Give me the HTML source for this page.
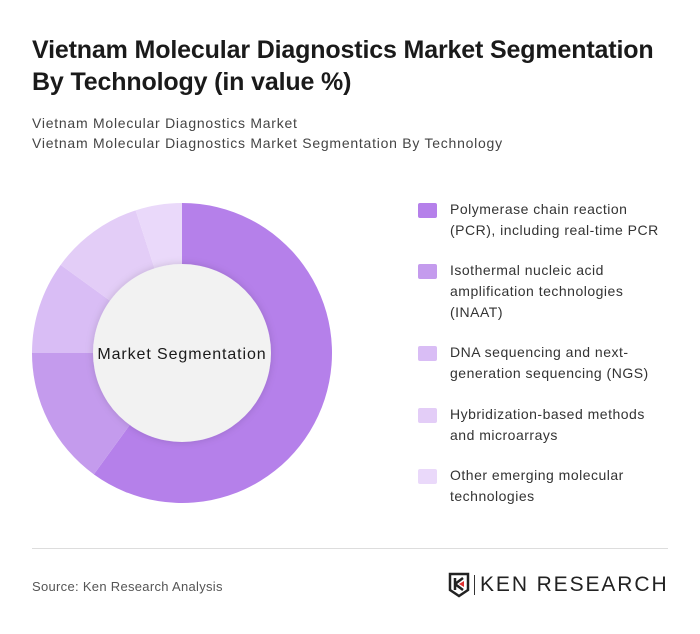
<!DOCTYPE html>
<html><head><meta charset="utf-8"><style>
body{margin:0;background:#fff;}
#card{position:relative;width:700px;height:634px;background:#fff;font-family:"Liberation Sans",sans-serif;overflow:hidden;}
h1{position:absolute;left:32px;top:34px;margin:0;font-size:25px;line-height:32px;font-weight:bold;color:#1a1a1a;width:650px;letter-spacing:-0.15px;}
.sub{position:absolute;left:32px;font-size:14px;color:#444;letter-spacing:0.75px;}
.leg{position:absolute;left:418px;font-size:14px;line-height:21px;color:#333;width:270px;letter-spacing:0.5px;}
.sw{position:absolute;left:0;top:4px;width:19px;height:15px;border-radius:2px;}
.lt{position:absolute;left:32px;white-space:nowrap;}
</style></head><body>
<div id="card">
<h1>Vietnam Molecular Diagnostics Market Segmentation By Technology (in value %)</h1>
<div class="sub" style="top:115px">Vietnam Molecular Diagnostics Market</div>
<div class="sub" style="top:135px">Vietnam Molecular Diagnostics Market Segmentation By Technology</div>
<svg id="donut" width="700" height="634" style="position:absolute;left:0;top:0">
<defs><filter id="sh" x="-20%" y="-20%" width="140%" height="140%"><feDropShadow dx="0" dy="0" stdDeviation="4" flood-color="#000" flood-opacity="0.15"/></filter></defs>
<g id="slices"></g>
<circle cx="182" cy="353" r="89" fill="#f2f2f2" filter="url(#sh)"/>
<text x="182" y="359" text-anchor="middle" font-size="16" letter-spacing="0.9" fill="#1a1a1a" font-family="Liberation Sans, sans-serif">Market Segmentation</text>
</svg>
<div id="legend"></div>
<div style="position:absolute;left:32px;top:548px;width:636px;height:1px;background:#ddd"></div>
<div style="position:absolute;left:32px;top:579px;font-size:13px;color:#555;letter-spacing:0.3px">Source: Ken Research Analysis</div>
<div style="position:absolute;left:448px;top:572px;width:220px;height:26px">
<svg width="22" height="26" style="position:absolute;left:0;top:0"><path d="M2 2H20V18L11 24L2 18Z" fill="none" stroke="#222" stroke-width="2.5"/><path d="M7 6V18M7 12L15 6M7 12L15 18" stroke="#222" stroke-width="2.5" fill="none"/><path d="M11 12L16 9V15Z" fill="#e03030"/></svg>
<div style="position:absolute;left:26px;top:3px;width:1px;height:20px;background:#333"></div>
<div style="position:absolute;left:32px;top:1px;font-size:21px;letter-spacing:1.9px;color:#222;font-family:'Liberation Sans',sans-serif;white-space:nowrap">KEN RESEARCH</div>
</div>
</div>
<script>
const categories=["Polymerase chain reaction (PCR), including real-time PCR","Isothermal nucleic acid amplification technologies (INAAT)","DNA sequencing and next-generation sequencing (NGS)","Hybridization-based methods and microarrays","Other emerging molecular technologies"];
const values=[60,15,10,10,5];
const colors=["#b580ea","#c49bed","#d9bdf5","#e3cdf7","#ead9fa"];
const legendLines=[["Polymerase chain reaction","(PCR), including real-time PCR"],["Isothermal nucleic acid","amplification technologies","(INAAT)"],["DNA sequencing and next-","generation sequencing (NGS)"],["Hybridization-based methods","and microarrays"],["Other emerging molecular","technologies"]];
const legendTops=[199,260,342,404,465];
const cx=182,cy=353,R=150;
const total=values.reduce((a,b)=>a+b,0);
function angle(v){return v/total*Math.PI*2;}
function pt(a,r){return [cx+r*Math.sin(a),cy-r*Math.cos(a)];}
const g=document.getElementById('slices');
let acc=0;
values.forEach((v,i)=>{
  const a0=angle(acc),a1=angle(acc+v);acc+=v;
  const p0=pt(a0,R),p1=pt(a1,R);
  const large=(a1-a0)>Math.PI?1:0;
  const p=document.createElementNS('http://www.w3.org/2000/svg','path');
  p.setAttribute('d',`M${cx},${cy}L${p0[0]},${p0[1]}A${R},${R} 0 ${large} 1 ${p1[0]},${p1[1]}Z`);
  p.setAttribute('fill',colors[i]);
  
  
  g.appendChild(p);
});
const lg=document.getElementById('legend');
categories.forEach((c,i)=>{
  const d=document.createElement('div');
  d.className='leg';d.style.top=legendTops[i]+'px';d.style.height=(legendLines[i].length*21)+'px';
  
  
  d.title=c;
  d.innerHTML=`<span class="sw" style="background:${colors[i]}"></span><span class="lt">${legendLines[i].join('<br>')}</span>`;
  lg.appendChild(d);
});
</script>
</body></html>
